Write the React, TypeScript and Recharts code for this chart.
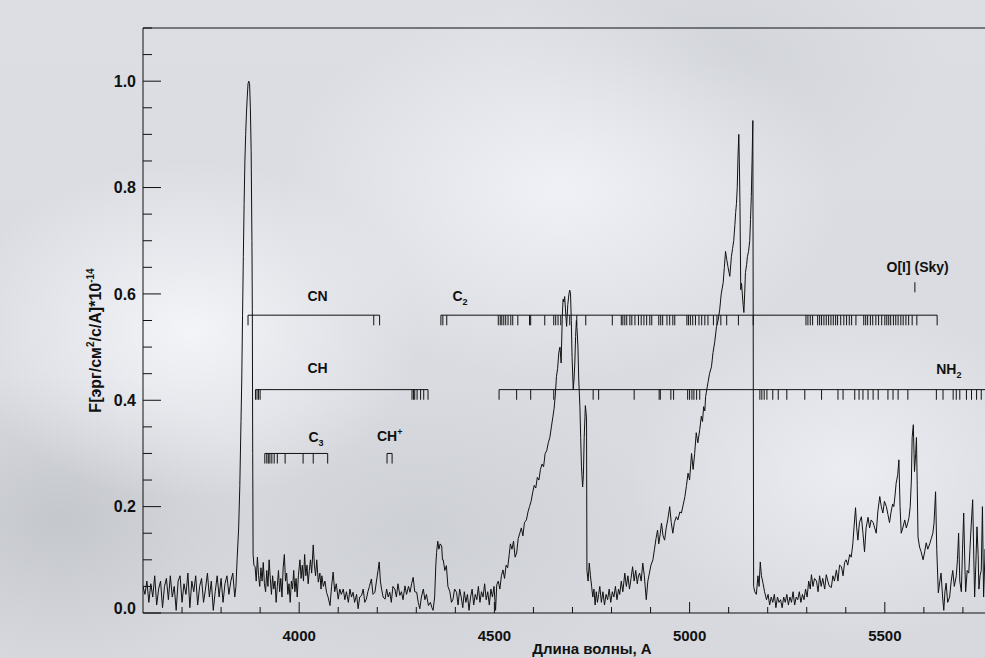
import { ComposedChart, Line, ReferenceLine, Scatter, XAxis, YAxis } from "recharts";

const INK = "#111";
const FONT = "'Liberation Sans', Arial, sans-serif";

// wavelength (A), flux (1e-14 erg/cm2/s/A)
const spectrum: [number, number][] = [
  [3600, 0.05], [3605, 0.035], [3610, 0.06], [3615, 0.02], [3620, 0.055], [3625, 0.03], [3630, 0.07],
  [3635, 0.015], [3640, 0.045], [3645, 0.06], [3650, 0.01], [3655, 0.05], [3660, 0.065], [3665, 0.025],
  [3670, 0.07], [3675, 0.03], [3680, 0.05], [3685, 0.005], [3690, 0.06], [3695, 0.07], [3700, 0.02],
  [3705, 0.055], [3710, 0.035], [3715, 0.075], [3720, 0.01], [3725, 0.06], [3730, 0.04], [3735, 0.07],
  [3740, 0.015], [3745, 0.05], [3750, 0.065], [3755, 0.02], [3760, 0.045], [3765, 0.075], [3770, 0.03],
  [3775, 0.06], [3780, 0.005], [3785, 0.04], [3790, 0.07], [3795, 0.03], [3800, 0.065], [3805, 0.02],
  [3810, 0.055], [3815, 0.07], [3820, 0.035], [3825, 0.06], [3830, 0.075], [3835, 0.03], [3838, 0.05],
  [3841, 0.1], [3845, 0.16], [3848, 0.24], [3851, 0.36], [3853, 0.44], [3855, 0.56], [3857, 0.67],
  [3859, 0.77], [3861, 0.85], [3863, 0.9], [3865, 0.94], [3867, 0.97], [3869, 0.995], [3871, 1.0],
  [3873, 0.995], [3875, 0.95], [3877, 0.87], [3879, 0.7], [3880, 0.57], [3881, 0.3], [3882, 0.11],
  [3884, 0.09], [3887, 0.087], [3890, 0.06], [3893, 0.105], [3896, 0.07], [3899, 0.05], [3902, 0.085],
  [3905, 0.06], [3908, 0.095], [3911, 0.055], [3914, 0.04], [3917, 0.08], [3920, 0.05], [3923, 0.1],
  [3926, 0.065], [3929, 0.035], [3932, 0.07], [3935, 0.045], [3938, 0.06], [3941, 0.02], [3944, 0.05],
  [3947, 0.08], [3950, 0.04], [3953, 0.065], [3956, 0.03], [3959, 0.085], [3962, 0.11], [3965, 0.06],
  [3968, 0.075], [3971, 0.035], [3974, 0.055], [3977, 0.02], [3980, 0.06], [3983, 0.045], [3986, 0.08],
  [3989, 0.04], [3992, 0.065], [3995, 0.03], [3998, 0.07], [4002, 0.1], [4005, 0.065], [4008, 0.09],
  [4011, 0.06], [4014, 0.11], [4017, 0.07], [4020, 0.09], [4023, 0.055], [4026, 0.08], [4029, 0.1],
  [4032, 0.075], [4036, 0.128], [4039, 0.09], [4042, 0.07], [4045, 0.1], [4049, 0.058], [4053, 0.075],
  [4056, 0.045], [4058, 0.07], [4062, 0.05], [4066, 0.06], [4070, 0.039], [4074, 0.03], [4079, 0.014],
  [4083, 0.05], [4087, 0.077], [4091, 0.04], [4095, 0.055], [4100, 0.026], [4104, 0.045], [4108, 0.035],
  [4113, 0.045], [4117, 0.025], [4121, 0.04], [4126, 0.02], [4130, 0.045], [4134, 0.03], [4138, 0.039],
  [4142, 0.02], [4147, 0.035], [4151, 0.008], [4155, 0.03], [4160, 0.033], [4164, 0.045], [4168, 0.02],
  [4172, 0.026], [4176, 0.04], [4180, 0.05], [4185, 0.064], [4189, 0.035], [4194, 0.039], [4198, 0.06],
  [4202, 0.08], [4205, 0.096], [4208, 0.06], [4211, 0.045], [4215, 0.03], [4220, 0.026], [4224, 0.045],
  [4228, 0.03], [4232, 0.039], [4236, 0.02], [4240, 0.05], [4245, 0.045], [4249, 0.03], [4253, 0.055],
  [4258, 0.033], [4262, 0.04], [4266, 0.025], [4271, 0.051], [4275, 0.035], [4280, 0.05], [4284, 0.039],
  [4288, 0.055], [4292, 0.067], [4296, 0.04], [4301, 0.039], [4305, 0.02], [4309, 0.008], [4313, 0.03],
  [4318, 0.045], [4322, 0.025], [4326, 0.035], [4331, 0.014], [4336, 0.02], [4340, 0.01], [4343, 0.005],
  [4347, 0.03], [4350, 0.09], [4352, 0.114], [4355, 0.135], [4358, 0.12], [4361, 0.13], [4365, 0.126],
  [4367, 0.1], [4369, 0.1], [4373, 0.08], [4377, 0.089], [4381, 0.05], [4386, 0.04], [4390, 0.02],
  [4394, 0.026], [4398, 0.045], [4403, 0.039], [4407, 0.015], [4411, 0.045], [4415, 0.03], [4419, 0.01],
  [4423, 0.04], [4427, 0.02], [4431, 0.035], [4435, 0.005], [4439, 0.03], [4443, 0.045], [4447, 0.015],
  [4451, 0.035], [4455, 0.025], [4459, 0.05], [4463, 0.02], [4467, 0.04], [4471, 0.03], [4475, 0.055],
  [4479, 0.025], [4483, 0.04], [4487, 0.015], [4491, 0.045], [4495, 0.03], [4499, 0.05], [4503, 0.005],
  [4506, 0.053], [4510, 0.06], [4514, 0.045], [4518, 0.07], [4522, 0.081], [4526, 0.065], [4530, 0.09],
  [4534, 0.085], [4538, 0.11], [4541, 0.13], [4545, 0.12], [4549, 0.135], [4553, 0.105], [4557, 0.113],
  [4561, 0.14], [4565, 0.15], [4569, 0.16], [4573, 0.145], [4577, 0.17], [4582, 0.175], [4586, 0.19],
  [4590, 0.2], [4594, 0.21], [4598, 0.226], [4602, 0.24], [4606, 0.235], [4610, 0.255], [4614, 0.25],
  [4618, 0.27], [4622, 0.28], [4626, 0.275], [4630, 0.3], [4634, 0.305], [4638, 0.32], [4642, 0.33],
  [4646, 0.35], [4650, 0.37], [4653, 0.385], [4656, 0.41], [4659, 0.445], [4662, 0.46], [4665, 0.49],
  [4668, 0.5], [4671, 0.47], [4674, 0.56], [4676, 0.59], [4678, 0.585], [4680, 0.595], [4683, 0.56],
  [4685, 0.539], [4688, 0.58], [4691, 0.6], [4693, 0.607], [4695, 0.6], [4697, 0.55], [4699, 0.48],
  [4702, 0.42], [4704, 0.44], [4706, 0.47], [4708, 0.52], [4710, 0.55], [4712, 0.53], [4714, 0.5],
  [4716, 0.44], [4719, 0.388], [4721, 0.33], [4723, 0.275], [4726, 0.237], [4728, 0.26], [4730, 0.33],
  [4732, 0.37], [4733, 0.39], [4735, 0.375], [4736, 0.363], [4737, 0.08], [4740, 0.06], [4743, 0.094],
  [4746, 0.07], [4749, 0.05], [4752, 0.03], [4755, 0.045], [4758, 0.015], [4761, 0.04], [4764, 0.02],
  [4767, 0.035], [4770, 0.05], [4774, 0.02], [4778, 0.04], [4782, 0.015], [4786, 0.035], [4790, 0.025],
  [4794, 0.045], [4798, 0.02], [4802, 0.04], [4806, 0.03], [4810, 0.05], [4814, 0.025], [4818, 0.045],
  [4821, 0.035], [4825, 0.06], [4829, 0.04], [4834, 0.075], [4838, 0.05], [4842, 0.07], [4846, 0.045],
  [4850, 0.065], [4854, 0.087], [4858, 0.06], [4862, 0.08], [4866, 0.055], [4869, 0.07], [4872, 0.075],
  [4876, 0.06], [4880, 0.094], [4884, 0.07], [4889, 0.025], [4893, 0.06], [4897, 0.075], [4901, 0.09],
  [4906, 0.1], [4910, 0.12], [4914, 0.14], [4918, 0.156], [4921, 0.13], [4925, 0.15], [4928, 0.169],
  [4932, 0.145], [4936, 0.137], [4940, 0.16], [4944, 0.175], [4949, 0.2], [4953, 0.17], [4957, 0.15],
  [4961, 0.17], [4966, 0.181], [4970, 0.175], [4975, 0.19], [4979, 0.188], [4984, 0.205], [4988, 0.219],
  [4992, 0.24], [4996, 0.263], [5000, 0.25], [5005, 0.3], [5009, 0.27], [5013, 0.3], [5017, 0.339],
  [5021, 0.32], [5026, 0.345], [5030, 0.37], [5033, 0.36], [5036, 0.388], [5039, 0.38], [5041, 0.407],
  [5044, 0.42], [5047, 0.433], [5051, 0.45], [5056, 0.463], [5060, 0.49], [5064, 0.508], [5069, 0.539],
  [5073, 0.55], [5077, 0.57], [5081, 0.6], [5086, 0.621], [5089, 0.65], [5092, 0.68], [5095, 0.665],
  [5098, 0.652], [5101, 0.64], [5103, 0.633], [5107, 0.67], [5110, 0.685], [5113, 0.7], [5116, 0.73],
  [5118, 0.753], [5120, 0.77], [5122, 0.8], [5124, 0.86], [5126, 0.9], [5128, 0.82], [5129, 0.765],
  [5131, 0.608], [5133, 0.62], [5135, 0.6], [5137, 0.58], [5139, 0.565], [5141, 0.6], [5143, 0.64],
  [5146, 0.655], [5148, 0.67], [5151, 0.68], [5154, 0.7], [5156, 0.74], [5158, 0.783], [5160, 0.85],
  [5162, 0.926], [5164, 0.05], [5167, 0.04], [5171, 0.035], [5175, 0.07], [5178, 0.05], [5181, 0.096],
  [5184, 0.07], [5188, 0.056], [5192, 0.04], [5197, 0.025], [5201, 0.035], [5205, 0.015], [5209, 0.03],
  [5213, 0.02], [5217, 0.035], [5221, 0.01], [5225, 0.03], [5229, 0.02], [5233, 0.025], [5237, 0.01],
  [5241, 0.03], [5245, 0.02], [5249, 0.035], [5253, 0.015], [5257, 0.03], [5261, 0.02], [5265, 0.04],
  [5269, 0.015], [5273, 0.03], [5277, 0.025], [5281, 0.04], [5285, 0.02], [5289, 0.035], [5293, 0.025],
  [5297, 0.045], [5301, 0.03], [5305, 0.06], [5309, 0.045], [5312, 0.072], [5316, 0.05], [5320, 0.065],
  [5325, 0.06], [5329, 0.04], [5333, 0.07], [5337, 0.05], [5341, 0.065], [5346, 0.045], [5350, 0.072],
  [5354, 0.06], [5358, 0.05], [5363, 0.048], [5367, 0.07], [5371, 0.06], [5376, 0.081], [5380, 0.06],
  [5384, 0.09], [5389, 0.087], [5393, 0.07], [5397, 0.095], [5401, 0.1], [5405, 0.09], [5410, 0.11],
  [5414, 0.105], [5418, 0.13], [5421, 0.16], [5425, 0.198], [5428, 0.16], [5431, 0.137], [5435, 0.17],
  [5440, 0.181], [5444, 0.15], [5448, 0.115], [5452, 0.16], [5457, 0.18], [5461, 0.16], [5465, 0.175],
  [5470, 0.17], [5474, 0.16], [5478, 0.15], [5482, 0.19], [5487, 0.219], [5491, 0.2], [5495, 0.188],
  [5499, 0.21], [5504, 0.2], [5508, 0.185], [5512, 0.17], [5516, 0.19], [5520, 0.205], [5523, 0.2],
  [5526, 0.22], [5529, 0.244], [5533, 0.26], [5536, 0.288], [5539, 0.2], [5542, 0.15], [5546, 0.16],
  [5551, 0.175], [5555, 0.16], [5559, 0.17], [5562, 0.18], [5565, 0.2], [5568, 0.25], [5570, 0.33],
  [5573, 0.354], [5576, 0.266], [5579, 0.3], [5581, 0.33], [5583, 0.24], [5585, 0.143], [5589, 0.124],
  [5593, 0.115], [5598, 0.1], [5602, 0.115], [5606, 0.132], [5610, 0.12], [5615, 0.13], [5619, 0.14],
  [5623, 0.15], [5626, 0.169], [5630, 0.228], [5633, 0.119], [5637, 0.038], [5641, 0.06], [5644, 0.075],
  [5648, 0.03], [5651, 0.005], [5654, 0.04], [5657, 0.056], [5661, 0.02], [5666, 0.03], [5670, 0.06],
  [5674, 0.08], [5678, 0.05], [5683, 0.07], [5686, 0.1], [5689, 0.15], [5692, 0.06], [5696, 0.04],
  [5699, 0.12], [5702, 0.188], [5705, 0.09], [5707, 0.04], [5711, 0.08], [5715, 0.075], [5718, 0.12],
  [5721, 0.162], [5725, 0.213], [5728, 0.1], [5730, 0.03], [5733, 0.09], [5736, 0.162], [5739, 0.11],
  [5741, 0.045], [5744, 0.07], [5747, 0.08], [5750, 0.2], [5753, 0.03], [5757, 0.12], [5760, 0.06],
  [5764, 0.15], [5768, 0.05], [5772, 0.1], [5776, 0.04], [5780, 0.12], [5785, 0.07], [5790, 0.14],
  [5795, 0.05], [5800, 0.09],
];

// band head markers (A)
const cnTicks = [3869, 4191, 4206];
const chTicks = [3888, 3892, 3896, 3900, 4289, 4293, 4296, 4302, 4311, 4319, 4330];
const c3Ticks = [3912, 3917, 3921, 3925, 3930, 3936, 3944, 3964, 4010, 4036, 4073];
const chPlusTicks = [4225, 4238];
const c2Ticks = [
  4363, 4368, 4378, 4510, 4515, 4519, 4524, 4529, 4535, 4542, 4547, 4560, 4590, 4593, 4629, 4652,
  4657, 4663, 4670, 4693, 4711, 4734, 4802, 4825, 4829, 4834, 4839, 4847, 4852, 4860, 4869, 4876,
  4883, 4890, 4898, 4903, 4921, 4926, 4931, 4942, 4949, 4957, 4962, 4993, 4997, 5002, 5008, 5015,
  5024, 5031, 5039, 5047, 5061, 5070, 5080, 5095, 5125, 5163, 5298, 5303, 5309, 5315, 5328, 5333,
  5338, 5344, 5350, 5356, 5362, 5368, 5374, 5379, 5387, 5395, 5402, 5409, 5415, 5426, 5446, 5451,
  5456, 5463, 5469, 5477, 5484, 5492, 5500, 5505, 5510, 5515, 5522, 5528, 5534, 5541, 5547, 5554,
  5561, 5570, 5582, 5634,
];
const nh2Ticks = [
  4512, 4557, 4593, 4652, 4753, 4767, 4858, 4922, 4925, 4952, 4959, 4995, 5000, 5006, 5011, 5018,
  5026, 5180, 5185, 5191, 5198, 5213, 5227, 5249, 5295, 5338, 5380, 5393, 5423, 5434, 5444, 5457,
  5470, 5483, 5508, 5521, 5534, 5559, 5632, 5649, 5675, 5683, 5692, 5709, 5722, 5735, 5747, 5766,
  5779,
];
const skyLine = 5577;

const bands = [
  { level: 0.56, ticks: cnTicks, to: 4206 },
  { level: 0.42, ticks: chTicks, to: 4330 },
  { level: 0.3, ticks: c3Ticks, to: 4073 },
  { level: 0.3, ticks: chPlusTicks, to: 4238 },
  { level: 0.56, ticks: c2Ticks, to: 5634 },
  { level: 0.42, ticks: nh2Ticks, to: 5900 },
];

const bandLabels = [
  { x: 4047, y: 0.597, text: "CN" },
  { x: 4412, y: 0.597, text: "C", sub: "2" },
  { x: 4047, y: 0.461, text: "CH" },
  { x: 4043, y: 0.331, text: "C", sub: "3" },
  { x: 4232, y: 0.333, text: "CH", sup: "+" },
  { x: 5664, y: 0.458, text: "NH", sub: "2" },
  { x: 5584, y: 0.65, text: "O[I] (Sky)" },
];

const wavelengthTicks = [
  3700, 3800, 3900, 4000, 4100, 4200, 4300, 4400, 4500, 4600, 4700, 4800, 4900, 5000, 5100,
  5200, 5300, 5400, 5500, 5600, 5700, 5800,
];
const fluxTicks = [
  0, 0.05, 0.1, 0.15, 0.2, 0.25, 0.3, 0.35, 0.4, 0.45, 0.5, 0.55, 0.6, 0.65, 0.7, 0.75, 0.8, 0.85,
  0.9, 0.95, 1.0, 1.05, 1.1,
];

const MARK = 0.019;

const BottomTick = ({ x, y, payload }: any) => {
  const major = payload.value % 500 === 0;
  return (
    <g>
      <line x1={x} x2={x} y1={y} y2={y - (major ? 11 : 6)} stroke={INK} />
      {major && (
        <text x={x} y={y + 28} textAnchor="middle" fontSize={15} fontWeight="bold" fontFamily={FONT} fill={INK}>
          {payload.value}
        </text>
      )}
    </g>
  );
};

const TopTick = ({ x, y, payload }: any) => {
  const major = payload.value % 500 === 0;
  return <line x1={x} x2={x} y1={y} y2={y + (major ? 11 : 6)} stroke={INK} />;
};

const LeftTick = ({ x, y, payload }: any) => {
  const hundredths = Math.round(payload.value * 100);
  const major = hundredths % 20 === 0;
  const labelled = major && hundredths <= 100;
  return (
    <g>
      <line x1={x} x2={x + (major ? 18 : 9)} y1={y} y2={y} stroke={INK} />
      {labelled && (
        <text
          x={x - 7}
          y={y - (hundredths === 0 ? 5 : 0)}
          dy="0.36em"
          textAnchor="end"
          fontSize={16}
          fontWeight="bold"
          fontFamily={FONT}
          fill={INK}
        >
          {payload.value.toFixed(1)}
        </text>
      )}
    </g>
  );
};

const BandLabel = ({ cx, cy, payload }: any) => (
  <text x={cx} y={cy} dy="0.36em" textAnchor="middle" fontSize={14} fontWeight="bold" fontFamily={FONT} fill={INK}>
    {payload.text}
    {payload.sub && (
      <tspan dy={4} fontSize={9}>
        {payload.sub}
      </tspan>
    )}
    {payload.sup && (
      <tspan dy={-6} fontSize={9}>
        {payload.sup}
      </tspan>
    )}
  </text>
);

const YTitle = (props: any) => {
  const vb = props.viewBox ?? { x: 83, y: 28, width: 60, height: 585 };
  const x = vb.x + 18;
  const y = vb.y + vb.height / 2 + 20;
  return (
    <text
      x={x}
      y={y}
      transform={`rotate(-90 ${x} ${y})`}
      textAnchor="middle"
      fontSize={16}
      fontWeight="bold"
      fontFamily={FONT}
      fill={INK}
    >
      F[эрг/см
      <tspan dy={-7} fontSize={10}>2</tspan>
      <tspan dy={7}>/с/А]*10</tspan>
      <tspan dy={-7} fontSize={10}>-14</tspan>
    </text>
  );
};

const XTitle = (props: any) => {
  const vb = props.viewBox ?? { x: 143, y: 613, width: 898, height: 45 };
  return (
    <text
      x={vb.x + vb.width / 2}
      y={vb.y + 41}
      textAnchor="middle"
      fontSize={15}
      fontWeight="bold"
      fontFamily={FONT}
      fill={INK}
    >
      Длина волны, А
    </text>
  );
};

const points = spectrum.map(([x, y]) => ({ x, y }));

export default function App() {
  return (
    <div
      style={{
        position: "absolute",
        left: 0,
        top: 0,
        width: 985,
        height: 658,
        overflow: "hidden",
        background:
          "radial-gradient(ellipse 230px 170px at 190px 330px, rgba(246,247,251,0.9), transparent)," +
          "radial-gradient(ellipse 280px 190px at 560px 190px, rgba(241,243,249,0.9), transparent)," +
          "radial-gradient(ellipse 220px 170px at 850px 470px, rgba(238,240,246,0.85), transparent)," +
          "radial-gradient(ellipse 200px 150px at 60px 520px, rgba(188,191,196,0.7), transparent)," +
          "radial-gradient(ellipse 240px 150px at 420px 530px, rgba(198,201,206,0.6), transparent)," +
          "radial-gradient(ellipse 220px 140px at 720px 60px, rgba(200,203,208,0.5), transparent)," +
          "linear-gradient(#dcdee3, #d7d9de)",
      }}
    >
      <ComposedChart width={1100} height={658} margin={{ top: 8, right: 59, bottom: 0, left: 83 }}>
        <XAxis
          dataKey="x"
          type="number"
          domain={[3600, 5900]}
          allowDataOverflow
          ticks={wavelengthTicks}
          interval={0}
          tickSize={0}
          tickMargin={0}
          tickLine={false}
          tick={<BottomTick />}
          height={45}
          stroke={INK}
          label={{ content: XTitle }}
        />
        <XAxis
          xAxisId="top"
          orientation="top"
          type="number"
          domain={[3600, 5900]}
          allowDataOverflow
          ticks={wavelengthTicks}
          interval={0}
          tickSize={0}
          tickMargin={0}
          tickLine={false}
          tick={<TopTick />}
          height={20}
          stroke={INK}
        />
        <YAxis
          type="number"
          domain={[0, 1.1]}
          allowDataOverflow
          ticks={fluxTicks}
          interval={0}
          tickSize={0}
          tickMargin={0}
          tickLine={false}
          tick={<LeftTick />}
          width={60}
          stroke={INK}
          label={{ content: YTitle }}
        />
        {bands.map((band, i) => (
          <ReferenceLine
            key={`band-${i}`}
            segment={[
              { x: band.ticks[0], y: band.level },
              { x: band.to, y: band.level },
            ]}
            stroke={INK}
            strokeWidth={1}
          />
        ))}
        {bands.flatMap((band, i) =>
          band.ticks.map((t, j) => (
            <ReferenceLine
              key={`tick-${i}-${j}`}
              segment={[
                { x: t, y: band.level },
                { x: t, y: band.level - MARK },
              ]}
              stroke={INK}
              strokeWidth={1}
            />
          )),
        )}
        <ReferenceLine
          segment={[
            { x: skyLine, y: 0.603 },
            { x: skyLine, y: 0.622 },
          ]}
          stroke={INK}
          strokeWidth={1}
        />
        <Line
          data={points}
          dataKey="y"
          type="linear"
          dot={false}
          stroke={INK}
          strokeWidth={1}
          isAnimationActive={false}
        />
        <Scatter data={bandLabels} dataKey="y" shape={BandLabel} isAnimationActive={false} />
      </ComposedChart>
    </div>
  );
}
